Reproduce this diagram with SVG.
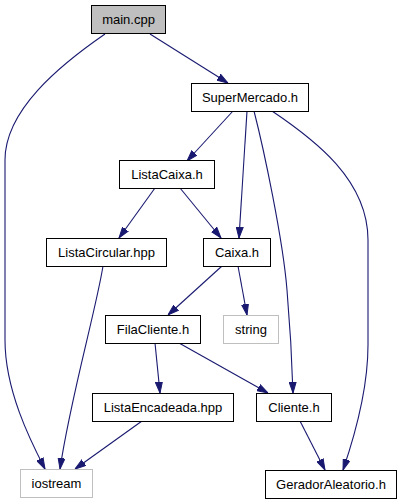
<svg xmlns="http://www.w3.org/2000/svg" width="401" height="504" viewBox="0 0 401 504">
<defs>
<marker id="arr" markerWidth="11" markerHeight="8" refX="11" refY="4" orient="auto" markerUnits="userSpaceOnUse">
<path d="M0,0.5 L11,4 L0,7.5 z" fill="#191970" stroke="#191970" stroke-width="1"/>
</marker>
</defs>
<style>
.n rect{fill:#fff;stroke:#000;stroke-width:1}
.n.g rect{stroke:#bfbfbf}
.n.m rect{fill:#bfbfbf}
.n text{font-family:"Liberation Sans",Arial,sans-serif;font-size:13px;fill:#000;text-anchor:middle}
.e path{fill:none;stroke:#191970;stroke-width:1.1;marker-end:url(#arr)}
</style>
<rect width="401" height="504" fill="#fff"/>
<g class="e" id="edges">
<path d="M105,34 C60,65 5,110 5,160 L5,340 C5,390 30,440 45,469"/>
<path d="M150,34 L228,83"/>
<path d="M233,111 L187,161"/>
<path d="M247,111 L239,238"/>
<path d="M254,111 C264,150 283,240 287,290 C290,325 292,360 293,393"/>
<path d="M272,111 C315,140 368,180 368,240 L368,345 C368,390 355,435 343,470"/>
<path d="M155,188 L119,238"/>
<path d="M180,188 L221,238"/>
<path d="M103,266 C96,310 70,400 60,469"/>
<path d="M222,266 L168,315"/>
<path d="M238,266 L247,315"/>
<path d="M155,343 L160,393"/>
<path d="M179,343 L268,393"/>
<path d="M300,421 L325,470"/>
<path d="M142,421 L75,469"/>
</g>
<g class="n m" id="main_cpp"><rect x="91.5" y="5.5" width="74" height="28"/><text x="128.5" y="24">main.cpp</text></g>
<g class="n" id="SuperMercado_h"><rect x="191.5" y="83.5" width="117" height="28"/><text x="250" y="102">SuperMercado.h</text></g>
<g class="n" id="ListaCaixa_h"><rect x="119.5" y="160.5" width="95" height="28"/><text x="167" y="179">ListaCaixa.h</text></g>
<g class="n" id="ListaCircular_hpp"><rect x="46.5" y="238.5" width="120" height="28"/><text x="106.5" y="257">ListaCircular.hpp</text></g>
<g class="n" id="Caixa_h"><rect x="203.5" y="238.5" width="67" height="28"/><text x="237" y="257">Caixa.h</text></g>
<g class="n" id="FilaCliente_h"><rect x="105.5" y="315.5" width="95" height="28"/><text x="153" y="334">FilaCliente.h</text></g>
<g class="n g" id="string"><rect x="223.5" y="315.5" width="55" height="28"/><text x="251" y="334">string</text></g>
<g class="n" id="ListaEncadeada_hpp"><rect x="92.5" y="393.5" width="141" height="28"/><text x="163" y="412">ListaEncadeada.hpp</text></g>
<g class="n" id="Cliente_h"><rect x="256.5" y="393.5" width="75" height="28"/><text x="294" y="412">Cliente.h</text></g>
<g class="n g" id="iostream"><rect x="20.5" y="469.5" width="72" height="28"/><text x="56.5" y="488">iostream</text></g>
<g class="n" id="GeradorAleatorio_h"><rect x="265.5" y="470.5" width="131" height="28"/><text x="331" y="489">GeradorAleatorio.h</text></g>
</svg>
